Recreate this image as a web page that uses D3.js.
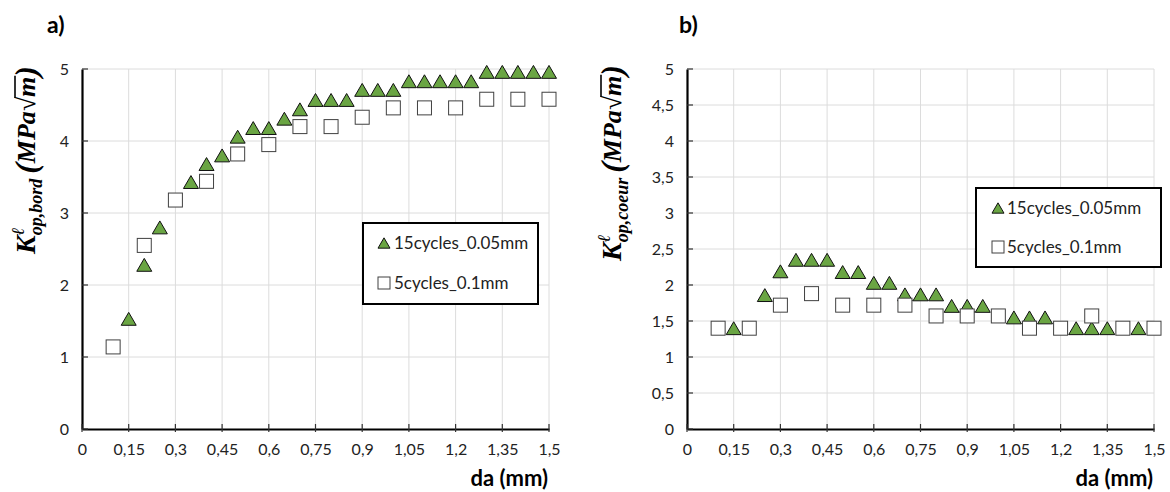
<!DOCTYPE html>
<html>
<head>
<meta charset="utf-8">
<script src="https://cdn.jsdelivr.net/npm/d3@7/dist/d3.min.js"></script>
<style>
  body { margin: 0; background: #fff; }
  svg text { font-family: Lato, "Open Sans", sans-serif; }
</style>
</head>
<body>
<svg id="chart" width="1170" height="492"></svg>
<script>
// --- data ----------------------------------------------------------------
var xTicks   = [0, 0.15, 0.3, 0.45, 0.6, 0.75, 0.9, 1.05, 1.2, 1.35, 1.5];
var yTicksA  = [0, 1, 2, 3, 4, 5];
var yTicksB  = [0, 0.5, 1, 1.5, 2, 2.5, 3, 3.5, 4, 4.5, 5];
var seriesNames = ["15cycles_0.05mm", "5cycles_0.1mm"];

// panel a) K op,bord
var triA = [
  [0.15, 1.53], [0.20, 2.28], [0.25, 2.80], [0.35, 3.43], [0.40, 3.68],
  [0.45, 3.80], [0.50, 4.06], [0.55, 4.18], [0.60, 4.18], [0.65, 4.31],
  [0.70, 4.44], [0.75, 4.57], [0.80, 4.57], [0.85, 4.57], [0.90, 4.71],
  [0.95, 4.71], [1.00, 4.71], [1.05, 4.83], [1.10, 4.83], [1.15, 4.83],
  [1.20, 4.83], [1.25, 4.83], [1.30, 4.96], [1.35, 4.96], [1.40, 4.96],
  [1.45, 4.96], [1.50, 4.96]
];
var sqA = [
  [0.10, 1.14], [0.20, 2.55], [0.30, 3.18], [0.40, 3.44], [0.50, 3.82],
  [0.60, 3.95], [0.70, 4.20], [0.80, 4.20], [0.90, 4.33], [1.00, 4.46],
  [1.10, 4.46], [1.20, 4.46], [1.30, 4.58], [1.40, 4.58], [1.50, 4.58]
];

// panel b) K op,coeur
var triB = [
  [0.15, 1.40], [0.25, 1.86], [0.30, 2.19], [0.35, 2.35], [0.40, 2.35],
  [0.45, 2.35], [0.50, 2.18], [0.55, 2.18], [0.60, 2.03], [0.65, 2.03],
  [0.70, 1.87], [0.75, 1.87], [0.80, 1.87], [0.85, 1.71], [0.90, 1.71],
  [0.95, 1.71], [1.05, 1.55], [1.10, 1.55], [1.15, 1.55], [1.25, 1.40],
  [1.30, 1.40], [1.35, 1.40], [1.45, 1.40]
];
var sqB = [
  [0.10, 1.40], [0.20, 1.40], [0.30, 1.72], [0.40, 1.88], [0.50, 1.72],
  [0.60, 1.72], [0.70, 1.72], [0.80, 1.57], [0.90, 1.57], [1.00, 1.57],
  [1.10, 1.40], [1.20, 1.40], [1.30, 1.57], [1.40, 1.40], [1.50, 1.40]
];

var svg = d3.select("#chart");
var fmt = function (d) { return String(d).replace(".", ","); };

function triPath(s) {
  var h = s * 0.86;
  return "M0," + (-h / 2) + "L" + (s / 2) + "," + (h / 2) + "L" + (-s / 2) + "," + (h / 2) + "Z";
}

function drawPanel(opt) {
  var g = svg.append("g");
  var x = d3.scaleLinear().domain([0, 1.5]).range([opt.left, opt.right]);
  var y = d3.scaleLinear().domain([0, 5]).range([opt.bottom, opt.top]);

  // grid
  g.append("g").selectAll("line").data(xTicks.slice(1)).join("line")
    .attr("x1", function (d) { return x(d); }).attr("x2", function (d) { return x(d); })
    .attr("y1", opt.top).attr("y2", opt.bottom)
    .attr("stroke", "#dcdcdc").attr("stroke-width", 1);
  g.append("g").selectAll("line").data(opt.yTicks.slice(1)).join("line")
    .attr("x1", opt.left).attr("x2", opt.right)
    .attr("y1", function (d) { return y(d); }).attr("y2", function (d) { return y(d); })
    .attr("stroke", "#dcdcdc").attr("stroke-width", 1);

  // axes
  var xAxis = d3.axisBottom(x).tickValues(xTicks).tickFormat(fmt).tickSize(0).tickPadding(15);
  var yAxis = d3.axisLeft(y).tickValues(opt.yTicks).tickFormat(fmt).tickSize(0).tickPadding(13);
  var gx = g.append("g").attr("transform", "translate(0," + opt.bottom + ")").call(xAxis);
  var gy = g.append("g").attr("transform", "translate(" + opt.left + ",0)").call(yAxis);
  [gx, gy].forEach(function (a) {
    a.select(".domain").attr("stroke", "#000").attr("stroke-width", 2.2);
    a.selectAll("text").attr("font-size", 16).attr("fill", "#222")
      .style("font-family", "Lato, 'Open Sans', sans-serif");
  });
  // small tick marks
  g.append("g").selectAll("line").data(opt.yTicks).join("line")
    .attr("x1", opt.left).attr("x2", opt.left + 6)
    .attr("y1", function (d) { return y(d); }).attr("y2", function (d) { return y(d); })
    .attr("stroke", "#333").attr("stroke-width", 1.2);
  g.append("g").selectAll("line").data(xTicks).join("line")
    .attr("x1", function (d) { return x(d); }).attr("x2", function (d) { return x(d); })
    .attr("y1", opt.bottom - 5).attr("y2", opt.bottom + 3)
    .attr("stroke", "#333").attr("stroke-width", 1.2);

  // markers
  g.append("g").selectAll("path").data(opt.tri).join("path")
    .attr("d", triPath(15))
    .attr("transform", function (d) { return "translate(" + x(d[0]) + "," + y(d[1]) + ")"; })
    .attr("fill", "#6aa543").attr("stroke", "#111").attr("stroke-width", 1);
  g.append("g").selectAll("rect").data(opt.sq).join("rect")
    .attr("x", function (d) { return x(d[0]) - 7; })
    .attr("y", function (d) { return y(d[1]) - 7; })
    .attr("width", 14).attr("height", 14)
    .attr("fill", "#fff").attr("stroke", "#404040").attr("stroke-width", 1);

  // legend
  var L = opt.legend;
  var lg = g.append("g");
  lg.append("rect").attr("x", L.x).attr("y", L.y).attr("width", L.w).attr("height", L.h)
    .attr("fill", "#fff").attr("stroke", "#000").attr("stroke-width", 2);
  lg.append("path").attr("d", triPath(12))
    .attr("transform", "translate(" + (L.x + L.mx) + "," + (L.y + L.r1) + ")")
    .attr("fill", "#6aa543").attr("stroke", "#111").attr("stroke-width", 1);
  lg.append("rect").attr("x", L.x + L.mx - 6).attr("y", L.y + L.r2 - 6)
    .attr("width", 12).attr("height", 12)
    .attr("fill", "#fff").attr("stroke", "#404040").attr("stroke-width", 1);
  lg.selectAll("text").data(seriesNames).join("text")
    .attr("x", L.x + L.tx)
    .attr("y", function (d, i) { return L.y + (i === 0 ? L.r1 : L.r2) + 6; })
    .attr("font-size", 17).attr("fill", "#222")
    .text(function (d) { return d; });

  // panel letter
  g.append("text").attr("x", opt.letterX).attr("y", 33)
    .attr("font-size", 23).attr("font-weight", "bold").attr("fill", "#000")
    .text(opt.letter);

  // x title
  g.append("text").attr("x", opt.right - 1).attr("y", 486)
    .attr("text-anchor", "end").attr("font-size", 22).attr("font-weight", "bold")
    .attr("fill", "#000").text("da (mm)");

  // y title: K^l_{op,...} (MPa sqrt m), rotated
  var yt = g.append("g").attr("transform", "translate(" + opt.titleX + "," + opt.titleY + ") rotate(-90)");
  var inner = yt.append("g");
  var serif = "'Liberation Serif', 'DejaVu Serif', serif";
  var cx = 0;
  function piece(txt, size, dy, advance) {
    var t = inner.append("text").attr("x", cx).attr("y", dy)
      .attr("font-size", size).attr("font-weight", "bold").attr("font-style", "italic")
      .style("font-family", serif).attr("fill", "#000").text(txt);
    var w = t.node().getComputedTextLength();
    if (advance) cx += w;
    return w;
  }
  piece("K", 28, 0, true);
  var w1 = piece("\u2113", 18, -11, false);
  var w2 = piece(opt.sub, 18, 7, false);
  cx += Math.max(w1, w2) + 5;
  piece("(", 32, 2, true);
  piece("MPa", 26, 0, true);
  piece("\u221A", 26, 0, true);
  var mStart = cx;
  piece("m", 26, 0, true);
  inner.append("line").attr("x1", mStart - 1).attr("x2", cx + 1).attr("y1", -20).attr("y2", -20)
    .attr("stroke", "#000").attr("stroke-width", 1.6);
  piece(")", 32, 2, true);
  inner.attr("transform", "translate(" + (-cx / 2) + ",0)");
}

drawPanel({
  left: 82, right: 549, top: 69, bottom: 429,
  yTicks: yTicksA, tri: triA, sq: sqA, sub: "op,bord",
  letter: "a)", letterX: 47, titleX: 35, titleY: 160,
  legend: { x: 363, y: 223, w: 175, h: 81, mx: 21, r1: 20, r2: 60, tx: 31 }
});
drawPanel({
  left: 687, right: 1154, top: 69, bottom: 429,
  yTicks: yTicksB, tri: triB, sq: sqB, sub: "op,coeur",
  letter: "b)", letterX: 679, titleX: 621, titleY: 163,
  legend: { x: 976, y: 188, w: 185, h: 79, mx: 22, r1: 20, r2: 59, tx: 31 }
});
</script>
</body>
</html>
